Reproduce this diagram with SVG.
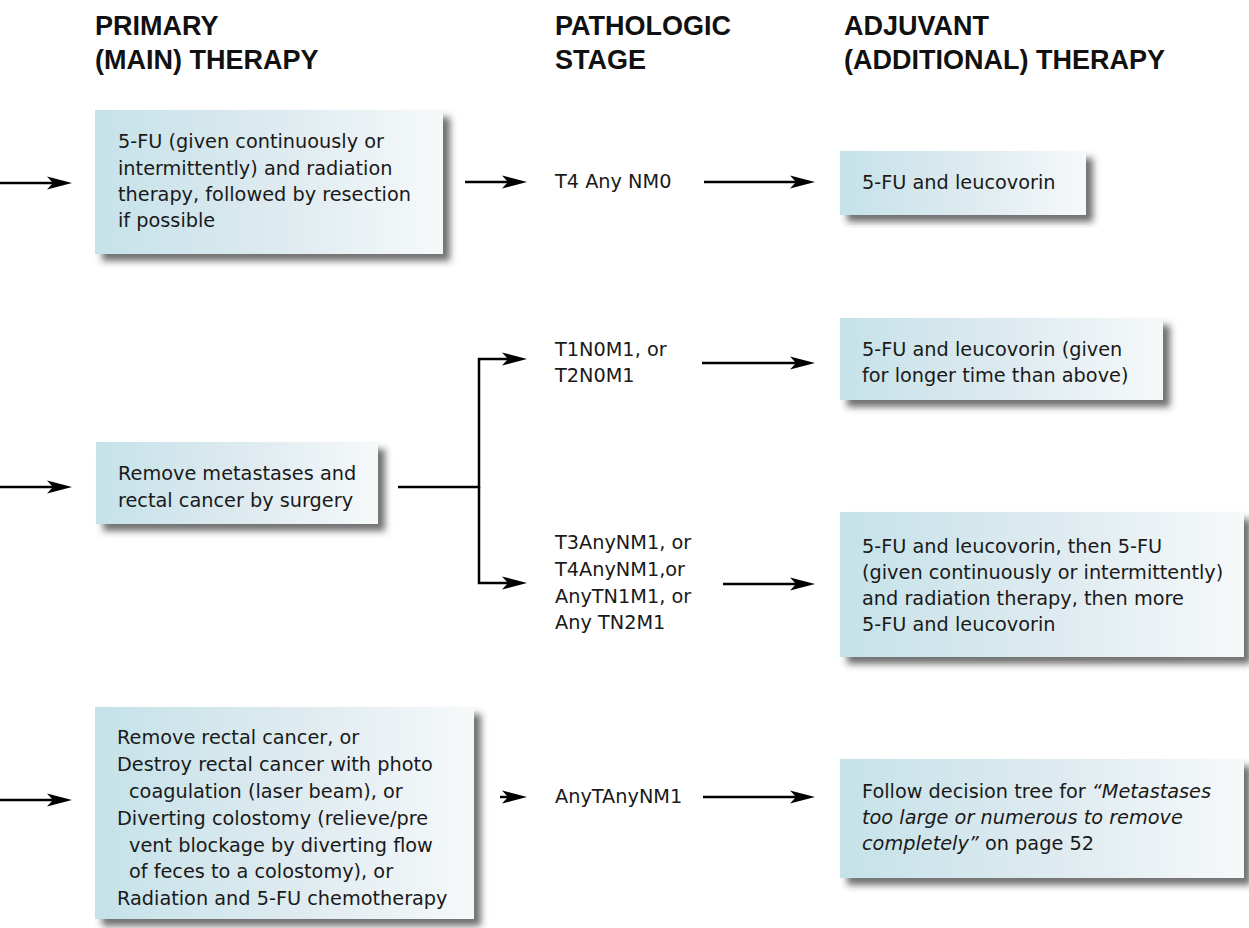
<svg xmlns="http://www.w3.org/2000/svg" width="1249" height="928" viewBox="0 0 1249 928">
<style>
.hdr{font-family:"Liberation Sans",Arial,sans-serif;font-weight:bold;font-size:27px;fill:#111}
.txt{font-family:"DejaVu Sans",Verdana,sans-serif;font-size:19.3px;fill:#1a1a1a}
.it{font-style:italic}
.box{fill:url(#grad);filter:url(#shadow)}
.con{fill:none;stroke:#000;stroke-width:2.5;stroke-linejoin:miter}
.arr{marker-end:url(#ah)}
</style>
<defs>
<linearGradient id="grad" x1="0" y1="0" x2="1" y2="0">
<stop offset="0" stop-color="#c5e2e9"/>
<stop offset="0.55" stop-color="#dfebf0"/>
<stop offset="1" stop-color="#f6f9fa"/>
</linearGradient>
<filter id="shadow" x="-5%" y="-5%" width="115%" height="125%">
<feDropShadow dx="7" dy="7" stdDeviation="3.5" flood-color="#333" flood-opacity="0.7"/>
</filter>
<marker id="ah" viewBox="-26 -7 27 14" refX="-8" refY="0" markerWidth="27" markerHeight="14" markerUnits="userSpaceOnUse" orient="auto">
<path d="M0,0 L-25,-6.5 L-19,0 L-25,6.5 Z" fill="#000"/>
</marker>
</defs>
<rect width="1249" height="928" fill="#fff"/>

<g id="headers">
<text class="hdr" x="95" y="35">PRIMARY</text>
<text class="hdr" x="95" y="69">(MAIN) THERAPY</text>
<text class="hdr" x="555" y="35">PATHOLOGIC</text>
<text class="hdr" x="555" y="69">STAGE</text>
<text class="hdr" x="844" y="35">ADJUVANT</text>
<text class="hdr" x="844" y="69">(ADDITIONAL) THERAPY</text>
</g>

<g id="connectors">
<path class="con arr" d="M0,183 H64"/>
<path class="con arr" d="M0,487 H64"/>
<path class="con arr" d="M0,800 H64"/>
<path class="con arr" d="M465,182 H519"/>
<path class="con arr" d="M704,182 H807"/>
<path class="con arr" d="M398,487 H479 V359 H519"/>
<path class="con arr" d="M479,487 V583 H519"/>
<path class="con arr" d="M702,363 H807"/>
<path class="con arr" d="M723,584 H807"/>
<path class="con arr" d="M500,797 H519"/>
<path class="con arr" d="M703,797 H807"/>
</g>

<g id="primary1">
<rect class="box" x="95" y="110" width="348" height="144"/>
<text class="txt" x="118" y="148">5-FU (given continuously or</text>
<text class="txt" x="118" y="175">intermittently) and radiation</text>
<text class="txt" x="118" y="201">therapy, followed by resection</text>
<text class="txt" x="118" y="227">if possible</text>
</g>

<g id="primary2">
<rect class="box" x="96" y="442" width="282" height="82"/>
<text class="txt" x="118" y="480">Remove metastases and</text>
<text class="txt" x="118" y="507">rectal cancer by surgery</text>
</g>

<g id="primary3">
<rect class="box" x="95" y="707" width="379" height="212"/>
<text class="txt" x="117" y="744">Remove rectal cancer, or</text>
<text class="txt" x="117" y="771">Destroy rectal cancer with photo</text>
<text class="txt" x="129" y="798">coagulation (laser beam), or</text>
<text class="txt" x="117" y="825">Diverting colostomy (relieve/pre</text>
<text class="txt" x="129" y="852">vent blockage by diverting flow</text>
<text class="txt" x="129" y="878">of feces to a colostomy), or</text>
<text class="txt" x="117" y="905">Radiation and 5-FU chemotherapy</text>
</g>

<g id="stage1">
<text class="txt" x="555" y="188">T4 Any NM0</text>
</g>
<g id="stage2">
<text class="txt" x="555" y="356">T1N0M1, or</text>
<text class="txt" x="555" y="382">T2N0M1</text>
</g>
<g id="stage3">
<text class="txt" x="555" y="549">T3AnyNM1, or</text>
<text class="txt" x="555" y="576">T4AnyNM1,or</text>
<text class="txt" x="555" y="603">AnyTN1M1, or</text>
<text class="txt" x="555" y="629">Any TN2M1</text>
</g>
<g id="stage4">
<text class="txt" x="555" y="803">AnyTAnyNM1</text>
</g>

<g id="adjuvant1">
<rect class="box" x="840" y="151" width="246" height="64"/>
<text class="txt" x="862" y="189">5-FU and leucovorin</text>
</g>
<g id="adjuvant2">
<rect class="box" x="840" y="318" width="323" height="82"/>
<text class="txt" x="862" y="356">5-FU and leucovorin (given</text>
<text class="txt" x="862" y="382">for longer time than above)</text>
</g>
<g id="adjuvant3">
<rect class="box" x="840" y="512" width="404" height="145"/>
<text class="txt" x="862" y="553">5-FU and leucovorin, then 5-FU</text>
<text class="txt" x="862" y="579">(given continuously or intermittently)</text>
<text class="txt" x="862" y="605">and radiation therapy, then more</text>
<text class="txt" x="862" y="631">5-FU and leucovorin</text>
</g>
<g id="adjuvant4">
<rect class="box" x="840" y="759" width="404" height="119"/>
<text class="txt" x="862" y="798">Follow decision tree for <tspan class="it">“Metastases</tspan></text>
<text class="txt it" x="862" y="824">too large or numerous to remove</text>
<text class="txt" x="862" y="850"><tspan class="it">completely”</tspan> on page 52</text>
</g>
</svg>
